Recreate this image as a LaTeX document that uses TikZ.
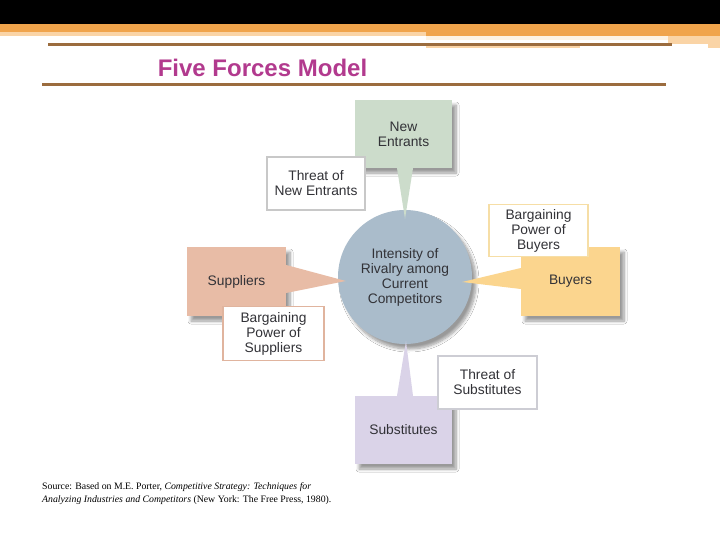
\documentclass[tikz,border=0pt]{standalone}
\usepackage{fontspec}
\setmainfont{Liberation Sans}
\newfontfamily\srcfont{Liberation Serif}
\usetikzlibrary{shadows.blur}
\definecolor{orA}{RGB}{240,164,76}
\definecolor{orL}{RGB}{250,212,166}
\definecolor{creamA}{RGB}{253,243,228}
\definecolor{brownA}{RGB}{155,108,62}
\definecolor{titleC}{RGB}{178,58,142}
\definecolor{greenA}{RGB}{204,220,203}
\definecolor{circA}{RGB}{170,188,203}
\definecolor{salmA}{RGB}{232,188,166}
\definecolor{buyA}{RGB}{251,213,142}
\definecolor{lavA}{RGB}{218,211,232}
\definecolor{txtA}{RGB}{50,50,55}
\definecolor{grayB}{RGB}{200,200,200}
\definecolor{salmB}{RGB}{224,180,158}
\definecolor{buyB}{RGB}{246,222,166}
\definecolor{lavB}{RGB}{205,205,212}
\tikzset{
  shd/.style={blur shadow={shadow xshift=4pt,shadow yshift=-5pt,shadow blur steps=8,shadow blur radius=3pt,shadow opacity=40}},
  forcebox/.style={rectangle, inner sep=0pt, align=center, text=txtA,
    font=\fontsize{13.8}{15}\selectfont, shd},
  labelbox/.style={rectangle, inner sep=0pt, align=center, text=txtA, fill=white,
    line width=1.2pt, font=\fontsize{13.8}{15}\selectfont},
}
\begin{document}
\begin{tikzpicture}[x=1pt,y=-1pt]
\useasboundingbox (0,0) rectangle (720,540);
\fill[white] (0,0) rectangle (720,540);
% header bands
\fill[black] (0,0) rectangle (720,24);
\fill[orA] (0,24) rectangle (720,32);
\fill[orL] (0,32) rectangle (426,36);
\fill[orA] (426,32) rectangle (720,36);
\fill[creamA] (426,36) rectangle (668,40);
\fill[orL] (668,36) rectangle (720,44);
\fill[orL] (708,44) rectangle (720,48);
\fill[orL] (426,45.5) rectangle (580,48.5);
\fill[brownA] (48,43.3) rectangle (672,45.8);
\fill[brownA] (42,83.2) rectangle (666,85.8);
\node[text=titleC, font=\fontsize{24}{26}\selectfont\bfseries, inner sep=0pt] (title) at (262.5,68) {Five Forces Model};
% centre
\node[circle, fill=circA, minimum size=134pt, inner sep=0pt, align=center, text=txtA,
  font=\fontsize{13.8}{15}\selectfont, shd] (rv) at (405,277)
  {Intensity of\\Rivalry among\\Current\\Competitors};
% force boxes
\node[forcebox, fill=greenA, minimum width=97pt, minimum height=68pt] (ne) at (403.5,134) {New\\Entrants};
\node[forcebox, fill=salmA, minimum width=99pt, minimum height=69pt] (sup) at (236.5,281.5) {Suppliers};
\node[forcebox, fill=buyA, minimum width=99pt, minimum height=69pt] (buy) at (570.5,281.5) {Buyers};
\node[forcebox, fill=lavA, minimum width=97pt, minimum height=68pt] (sub) at (403.5,430) {Substitutes};
% pointers
\fill[greenA] ([xshift=-6.5pt]ne.south) -- ([xshift=9.5pt]ne.south) -- ([yshift=-9pt]rv.north) -- cycle;
\fill[salmA] ([yshift=16.5pt]sup.east) -- ([yshift=-11.5pt]sup.east) -- ([xshift=8pt,yshift=-4pt]rv.west) -- cycle;
\fill[buyA] ([yshift=13.5pt]buy.west) -- ([yshift=-7.5pt]buy.west) -- ([xshift=-10pt,yshift=-5pt]rv.east) -- cycle;
\fill[lavA] ([xshift=-6.5pt]sub.north) -- ([xshift=9.5pt]sub.north) -- ([xshift=1pt,yshift=3pt]rv.south) -- cycle;
% label boxes
\node[labelbox, draw=grayB, minimum width=98pt, minimum height=53pt] (tne) at (316,183.5) {Threat of\\New Entrants};
\node[labelbox, draw=salmB, minimum width=101pt, minimum height=54pt] (bps) at (273.5,333.5) {Bargaining\\Power of\\Suppliers};
\node[labelbox, draw=buyB, minimum width=99pt, minimum height=52pt] (bpb) at (538.5,230.5) {Bargaining\\Power of\\Buyers};
\node[labelbox, draw=lavB, minimum width=99pt, minimum height=53pt] (tsub) at (487.5,382.5) {Threat of\\Substitutes};
% source
\node[anchor=north west, align=left, inner sep=0pt, text=black,
  font=\srcfont\fontsize{9.8}{12.5}\selectfont] (src) at (42,482.5)
  {Source: Based on M.E. Porter, \textit{Competitive Strategy: Techniques for}\\
   \textit{Analyzing Industries and Competitors} (New York: The Free Press, 1980).};
\end{tikzpicture}
\end{document}
